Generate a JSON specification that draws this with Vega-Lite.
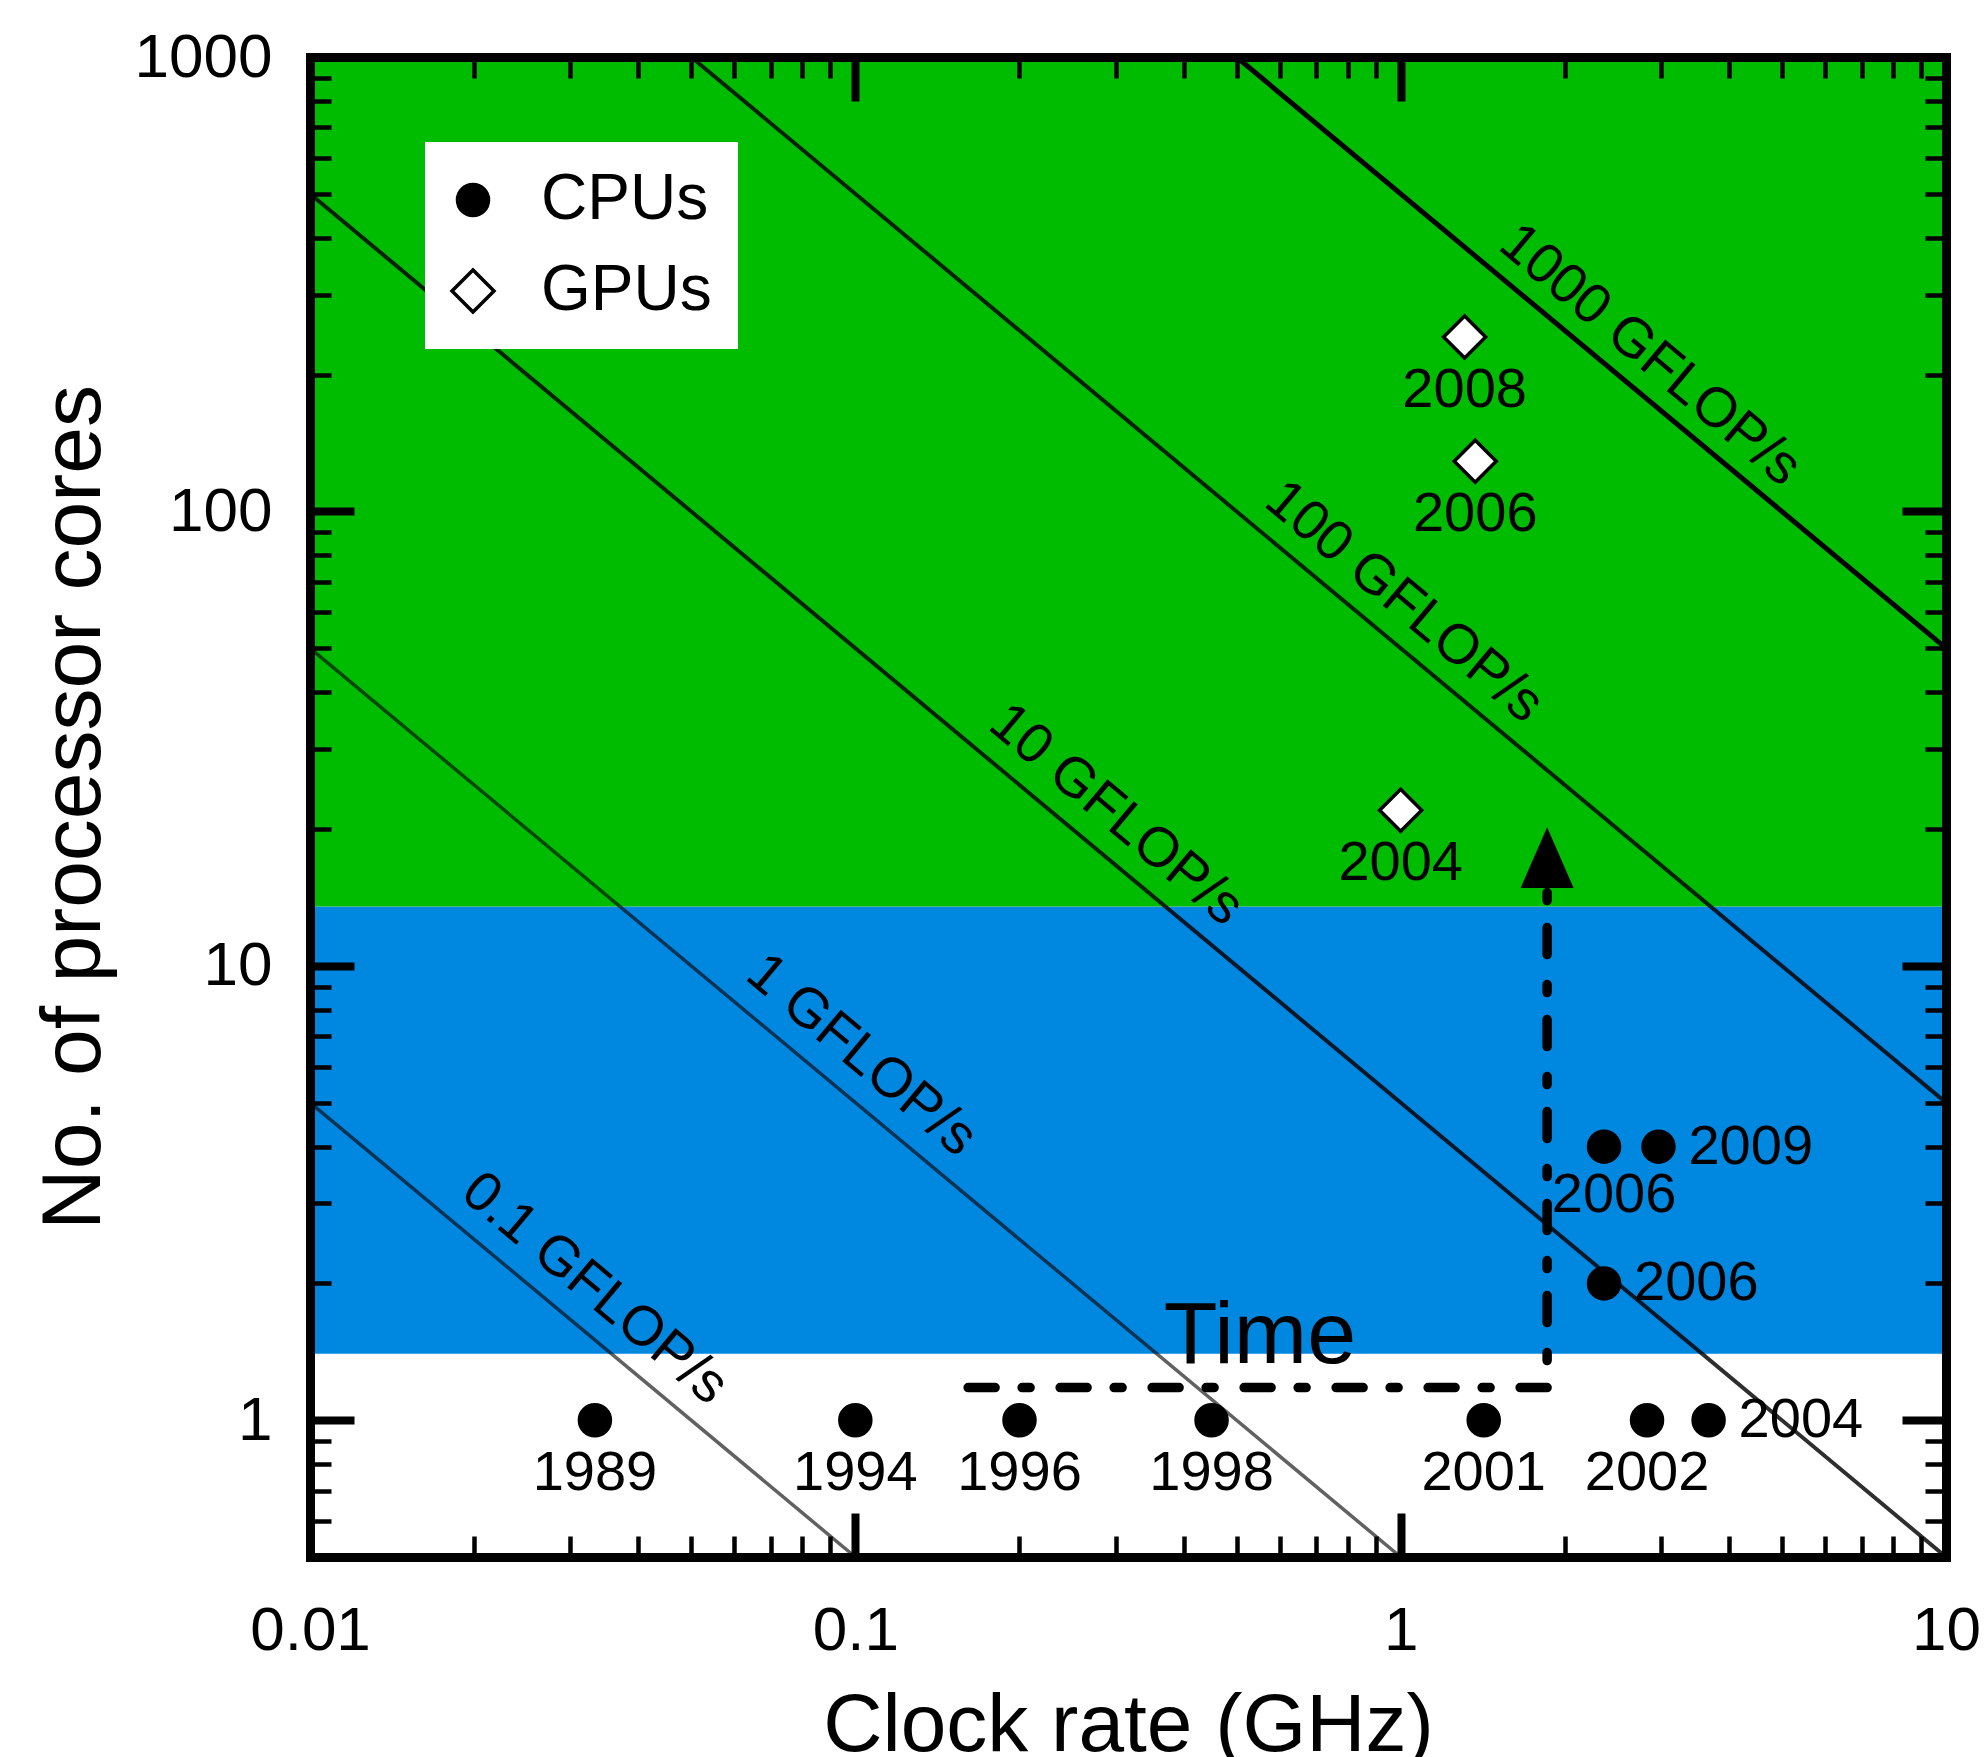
{
  "$schema": "https://vega.github.io/schema/vega-lite/v6.json",
  "width": 1636,
  "height": 1500,
  "autosize": {"type": "none"},
  "padding": {"left": 310, "top": 57, "right": 39, "bottom": 200},
  "background": "white",
  "config": {
    "font": "Liberation Sans",
    "view": {"stroke": null},
    "axis": {"grid": false, "labelColor": "black", "titleColor": "black", "titleFontWeight": "normal", "zindex": 1}
  },
  "datasets": {
    "bands": [
      {"band": "multi", "y0": 1.4, "y1": 13.5},
      {"band": "many", "y0": 13.5, "y1": 1000}
    ],
    "lines": [
      {"gflops": "0.1", "clock": 0.01, "cores": 5},
      {"gflops": "0.1", "clock": 0.1, "cores": 0.5},
      {"gflops": "1", "clock": 0.01, "cores": 50},
      {"gflops": "1", "clock": 1, "cores": 0.5},
      {"gflops": "10", "clock": 0.01, "cores": 500},
      {"gflops": "10", "clock": 10, "cores": 0.5},
      {"gflops": "100", "clock": 0.05, "cores": 1000},
      {"gflops": "100", "clock": 10, "cores": 5},
      {"gflops": "1000", "clock": 0.5, "cores": 1000},
      {"gflops": "1000", "clock": 10, "cores": 50}
    ],
    "gflopLabels": [
      {"label": "0.1 GFLOP/s", "clock": 0.0333, "cores": 1.95},
      {"label": "1 GFLOP/s", "clock": 0.1027, "cores": 6.36},
      {"label": "10 GFLOP/s", "clock": 0.301, "cores": 21.5},
      {"label": "100 GFLOP/s", "clock": 1.016, "cores": 63.3},
      {"label": "1000 GFLOP/s", "clock": 2.87, "cores": 221}
    ],
    "timePath": [
      {"step": 0, "clock": 0.161, "cores": 1.18},
      {"step": 1, "clock": 1.856, "cores": 1.18},
      {"step": 2, "clock": 1.856, "cores": 14.5}
    ],
    "timeArrow": [
      {"clock": 1.856, "cores": 17.3}
    ],
    "timeText": [
      {"label": "Time", "clock": 0.552, "cores": 1.336}
    ],
    "chips": [
      {"type": "CPUs", "year": "1989", "clock": 0.0333, "cores": 1},
      {"type": "CPUs", "year": "1994", "clock": 0.1, "cores": 1},
      {"type": "CPUs", "year": "1996", "clock": 0.2, "cores": 1},
      {"type": "CPUs", "year": "1998", "clock": 0.45, "cores": 1},
      {"type": "CPUs", "year": "2001", "clock": 1.42, "cores": 1},
      {"type": "CPUs", "year": "2002", "clock": 2.83, "cores": 1},
      {"type": "CPUs", "year": "2004", "clock": 3.67, "cores": 1},
      {"type": "CPUs", "year": "2006", "clock": 2.36, "cores": 2},
      {"type": "CPUs", "year": "2006", "clock": 2.36, "cores": 4},
      {"type": "CPUs", "year": "2009", "clock": 2.97, "cores": 4},
      {"type": "GPUs", "year": "2004", "clock": 1.0, "cores": 22},
      {"type": "GPUs", "year": "2006", "clock": 1.37, "cores": 129},
      {"type": "GPUs", "year": "2008", "clock": 1.31, "cores": 242}
    ]
  },
  "layer": [
    {
      "data": {"name": "bands"},
      "mark": {"type": "rect"},
      "encoding": {
        "x": {"datum": 0.01, "type": "quantitative", "scale": {"type": "log", "domain": [0.01, 10], "nice": false}, "axis": null},
        "x2": {"datum": 10},
        "y": {"field": "y0", "type": "quantitative", "scale": {"type": "log", "domain": [0.5, 1000], "nice": false}, "axis": null},
        "y2": {"field": "y1"},
        "color": {"field": "band", "type": "nominal", "scale": {"domain": ["multi", "many"], "range": ["#0087E0", "#00BC00"]}, "legend": null}
      }
    },
    {
      "data": {"name": "lines"},
      "transform": [{"filter": "datum.gflops == '0.1' || datum.gflops == '1'"}],
      "mark": {"type": "line", "color": "black", "strokeWidth": 3.5, "opacity": 0.62},
      "encoding": {
        "x": {"field": "clock", "type": "quantitative", "scale": {"type": "log", "domain": [0.01, 10], "nice": false},
          "axis": {"orient": "bottom", "values": [0.01, 0.1, 1, 10], "ticks": false, "domain": false, "labelFontSize": 62, "labelPadding": 43, "labelFlush": false, "labelOverlap": false, "labelBound": false, "labelExpr": "'' + datum.value", "title": "Clock rate (GHz)", "titleFontSize": 82, "titlePadding": 24}},
        "y": {"field": "cores", "type": "quantitative", "scale": {"type": "log", "domain": [0.5, 1000], "nice": false},
          "axis": {"orient": "left", "values": [1, 10, 100, 1000], "ticks": false, "domain": false, "labelFontSize": 62, "labelPadding": 38, "labelFlush": false, "labelOverlap": false, "labelBound": false, "labelExpr": "'' + datum.value", "title": "No. of processor cores", "titleFontSize": 84, "titlePadding": 17}},
        "detail": {"field": "gflops", "type": "nominal"}
      }
    },
    {
      "data": {"name": "lines"},
      "transform": [{"filter": "datum.gflops == '10' || datum.gflops == '100'"}],
      "mark": {"type": "line", "color": "black", "strokeWidth": 4, "opacity": 0.82},
      "encoding": {
        "x": {"field": "clock", "type": "quantitative", "scale": {"type": "log", "domain": [0.01, 10], "nice": false}, "axis": null},
        "y": {"field": "cores", "type": "quantitative", "scale": {"type": "log", "domain": [0.5, 1000], "nice": false}, "axis": null},
        "detail": {"field": "gflops", "type": "nominal"}
      }
    },
    {
      "data": {"name": "lines"},
      "transform": [{"filter": "datum.gflops == '1000'"}],
      "mark": {"type": "line", "color": "black", "strokeWidth": 5, "opacity": 1},
      "encoding": {
        "x": {"field": "clock", "type": "quantitative", "scale": {"type": "log", "domain": [0.01, 10], "nice": false}, "axis": null},
        "y": {"field": "cores", "type": "quantitative", "scale": {"type": "log", "domain": [0.5, 1000], "nice": false}, "axis": null}
      }
    },
    {
      "data": {"name": "gflopLabels"},
      "mark": {"type": "text", "fontSize": 56, "angle": 40, "align": "center", "baseline": "middle", "color": "black"},
      "encoding": {
        "x": {"field": "clock", "type": "quantitative", "scale": {"type": "log", "domain": [0.01, 10], "nice": false},
          "axis": {"orient": "bottom", "values": [0.01, 0.1, 1, 10], "labels": false, "title": null, "domain": true, "domainWidth": 9, "domainColor": "black", "domainCap": "square", "ticks": true, "tickSize": -44, "tickWidth": 8, "tickColor": "black", "zindex": 2}},
        "y": {"field": "cores", "type": "quantitative", "scale": {"type": "log", "domain": [0.5, 1000], "nice": false},
          "axis": {"orient": "left", "values": [1, 10, 100, 1000], "labels": false, "title": null, "domain": true, "domainWidth": 9, "domainColor": "black", "domainCap": "square", "ticks": true, "tickSize": -44, "tickWidth": 8, "tickColor": "black", "zindex": 2}},
        "text": {"field": "label"}
      }
    },
    {
      "data": {"name": "timePath"},
      "mark": {"type": "line", "color": "black", "strokeWidth": 9.5, "strokeCap": "round", "strokeDash": [27, 27, 8, 30]},
      "encoding": {
        "x": {"field": "clock", "type": "quantitative", "scale": {"type": "log", "domain": [0.01, 10], "nice": false},
          "axis": {"orient": "bottom", "values": [0.02, 0.03, 0.04, 0.05, 0.06, 0.07, 0.08, 0.09, 0.2, 0.3, 0.4, 0.5, 0.6, 0.7, 0.8, 0.9, 2, 3, 4, 5, 6, 7, 8, 9], "labels": false, "title": null, "domain": false, "ticks": true, "tickSize": -21, "tickWidth": 4.5, "tickColor": "black", "zindex": 2}},
        "y": {"field": "cores", "type": "quantitative", "scale": {"type": "log", "domain": [0.5, 1000], "nice": false},
          "axis": {"orient": "left", "values": [0.6, 0.7, 0.8, 0.9, 2, 3, 4, 5, 6, 7, 8, 9, 20, 30, 40, 50, 60, 70, 80, 90, 200, 300, 400, 500, 600, 700, 800, 900], "labels": false, "title": null, "domain": false, "ticks": true, "tickSize": -21, "tickWidth": 4.5, "tickColor": "black", "zindex": 2}},
        "order": {"field": "step", "type": "quantitative"}
      }
    },
    {
      "data": {"name": "timeArrow"},
      "mark": {"type": "point", "shape": "M0,-1.15L1,1.15L-1,1.15Z", "size": 2809, "filled": true, "color": "black", "opacity": 1},
      "encoding": {
        "x": {"field": "clock", "type": "quantitative", "scale": {"type": "log", "domain": [0.01, 10], "nice": false},
          "axis": {"orient": "top", "values": [0.01, 0.1, 1, 10], "labels": false, "title": null, "domain": true, "domainWidth": 9, "domainColor": "black", "domainCap": "square", "ticks": true, "tickSize": -44, "tickWidth": 8, "tickColor": "black", "zindex": 2}},
        "y": {"field": "cores", "type": "quantitative", "scale": {"type": "log", "domain": [0.5, 1000], "nice": false},
          "axis": {"orient": "right", "values": [1, 10, 100, 1000], "labels": false, "title": null, "domain": true, "domainWidth": 9, "domainColor": "black", "domainCap": "square", "ticks": true, "tickSize": -44, "tickWidth": 8, "tickColor": "black", "zindex": 2}}
      }
    },
    {
      "data": {"name": "timeText"},
      "mark": {"type": "text", "fontSize": 88, "align": "center", "baseline": "alphabetic", "color": "black"},
      "encoding": {
        "x": {"field": "clock", "type": "quantitative", "scale": {"type": "log", "domain": [0.01, 10], "nice": false},
          "axis": {"orient": "top", "values": [0.02, 0.03, 0.04, 0.05, 0.06, 0.07, 0.08, 0.09, 0.2, 0.3, 0.4, 0.5, 0.6, 0.7, 0.8, 0.9, 2, 3, 4, 5, 6, 7, 8, 9], "labels": false, "title": null, "domain": false, "ticks": true, "tickSize": -21, "tickWidth": 4.5, "tickColor": "black", "zindex": 2}},
        "y": {"field": "cores", "type": "quantitative", "scale": {"type": "log", "domain": [0.5, 1000], "nice": false},
          "axis": {"orient": "right", "values": [0.6, 0.7, 0.8, 0.9, 2, 3, 4, 5, 6, 7, 8, 9, 20, 30, 40, 50, 60, 70, 80, 90, 200, 300, 400, 500, 600, 700, 800, 900], "labels": false, "title": null, "domain": false, "ticks": true, "tickSize": -21, "tickWidth": 4.5, "tickColor": "black", "zindex": 2}},
        "text": {"field": "label"}
      }
    },
    {
      "data": {"name": "chips"},
      "mark": {"type": "point", "filled": true, "stroke": "black", "strokeWidth": 3.5, "opacity": 1},
      "encoding": {
        "x": {"field": "clock", "type": "quantitative", "scale": {"type": "log", "domain": [0.01, 10], "nice": false}, "axis": null},
        "y": {"field": "cores", "type": "quantitative", "scale": {"type": "log", "domain": [0.5, 1000], "nice": false}, "axis": null},
        "shape": {"field": "type", "type": "ordinal", "scale": {"domain": ["CPUs", "GPUs"], "range": ["circle", "diamond"]},
          "legend": {"title": null, "orient": "none", "legendX": 115, "legendY": 85, "direction": "vertical", "fillColor": "white", "padding": 26, "labelFontSize": 64, "labelOffset": 36, "labelLimit": 0, "symbolOffset": -10, "rowPadding": 27, "symbolStrokeColor": "black", "symbolStrokeWidth": 3.5, "labelColor": "black"}},
        "fill": {"field": "type", "type": "ordinal", "scale": {"domain": ["CPUs", "GPUs"], "range": ["black", "white"]}},
        "size": {"field": "type", "type": "ordinal", "scale": {"domain": ["CPUs", "GPUs"], "range": [961, 1764]}}
      }
    },
    {
      "data": {"name": "chips"},
      "transform": [{"filter": "datum.type == 'GPUs' || (datum.cores == 1 && datum.clock < 3)"}],
      "mark": {"type": "text", "fontSize": 56, "align": "center", "baseline": "middle", "dy": 53, "color": "black"},
      "encoding": {
        "x": {"field": "clock", "type": "quantitative", "scale": {"type": "log", "domain": [0.01, 10], "nice": false}, "axis": null},
        "y": {"field": "cores", "type": "quantitative", "scale": {"type": "log", "domain": [0.5, 1000], "nice": false}, "axis": null},
        "text": {"field": "year"}
      }
    },
    {
      "data": {"name": "chips"},
      "transform": [{"filter": "datum.type == 'CPUs' && datum.cores == 4 && datum.clock < 2.5"}],
      "mark": {"type": "text", "fontSize": 56, "align": "center", "baseline": "middle", "dx": 10, "dy": 48, "color": "black"},
      "encoding": {
        "x": {"field": "clock", "type": "quantitative", "scale": {"type": "log", "domain": [0.01, 10], "nice": false}, "axis": null},
        "y": {"field": "cores", "type": "quantitative", "scale": {"type": "log", "domain": [0.5, 1000], "nice": false}, "axis": null},
        "text": {"field": "year"}
      }
    },
    {
      "data": {"name": "chips"},
      "transform": [{"filter": "datum.type == 'CPUs' && !((datum.cores == 1 && datum.clock < 3) || (datum.cores == 4 && datum.clock < 2.5))"}],
      "mark": {"type": "text", "fontSize": 56, "align": "left", "baseline": "middle", "dx": 30, "color": "black"},
      "encoding": {
        "x": {"field": "clock", "type": "quantitative", "scale": {"type": "log", "domain": [0.01, 10], "nice": false}, "axis": null},
        "y": {"field": "cores", "type": "quantitative", "scale": {"type": "log", "domain": [0.5, 1000], "nice": false}, "axis": null},
        "text": {"field": "year"}
      }
    }
  ],
  "resolve": {"axis": {"x": "independent", "y": "independent"}}
}
